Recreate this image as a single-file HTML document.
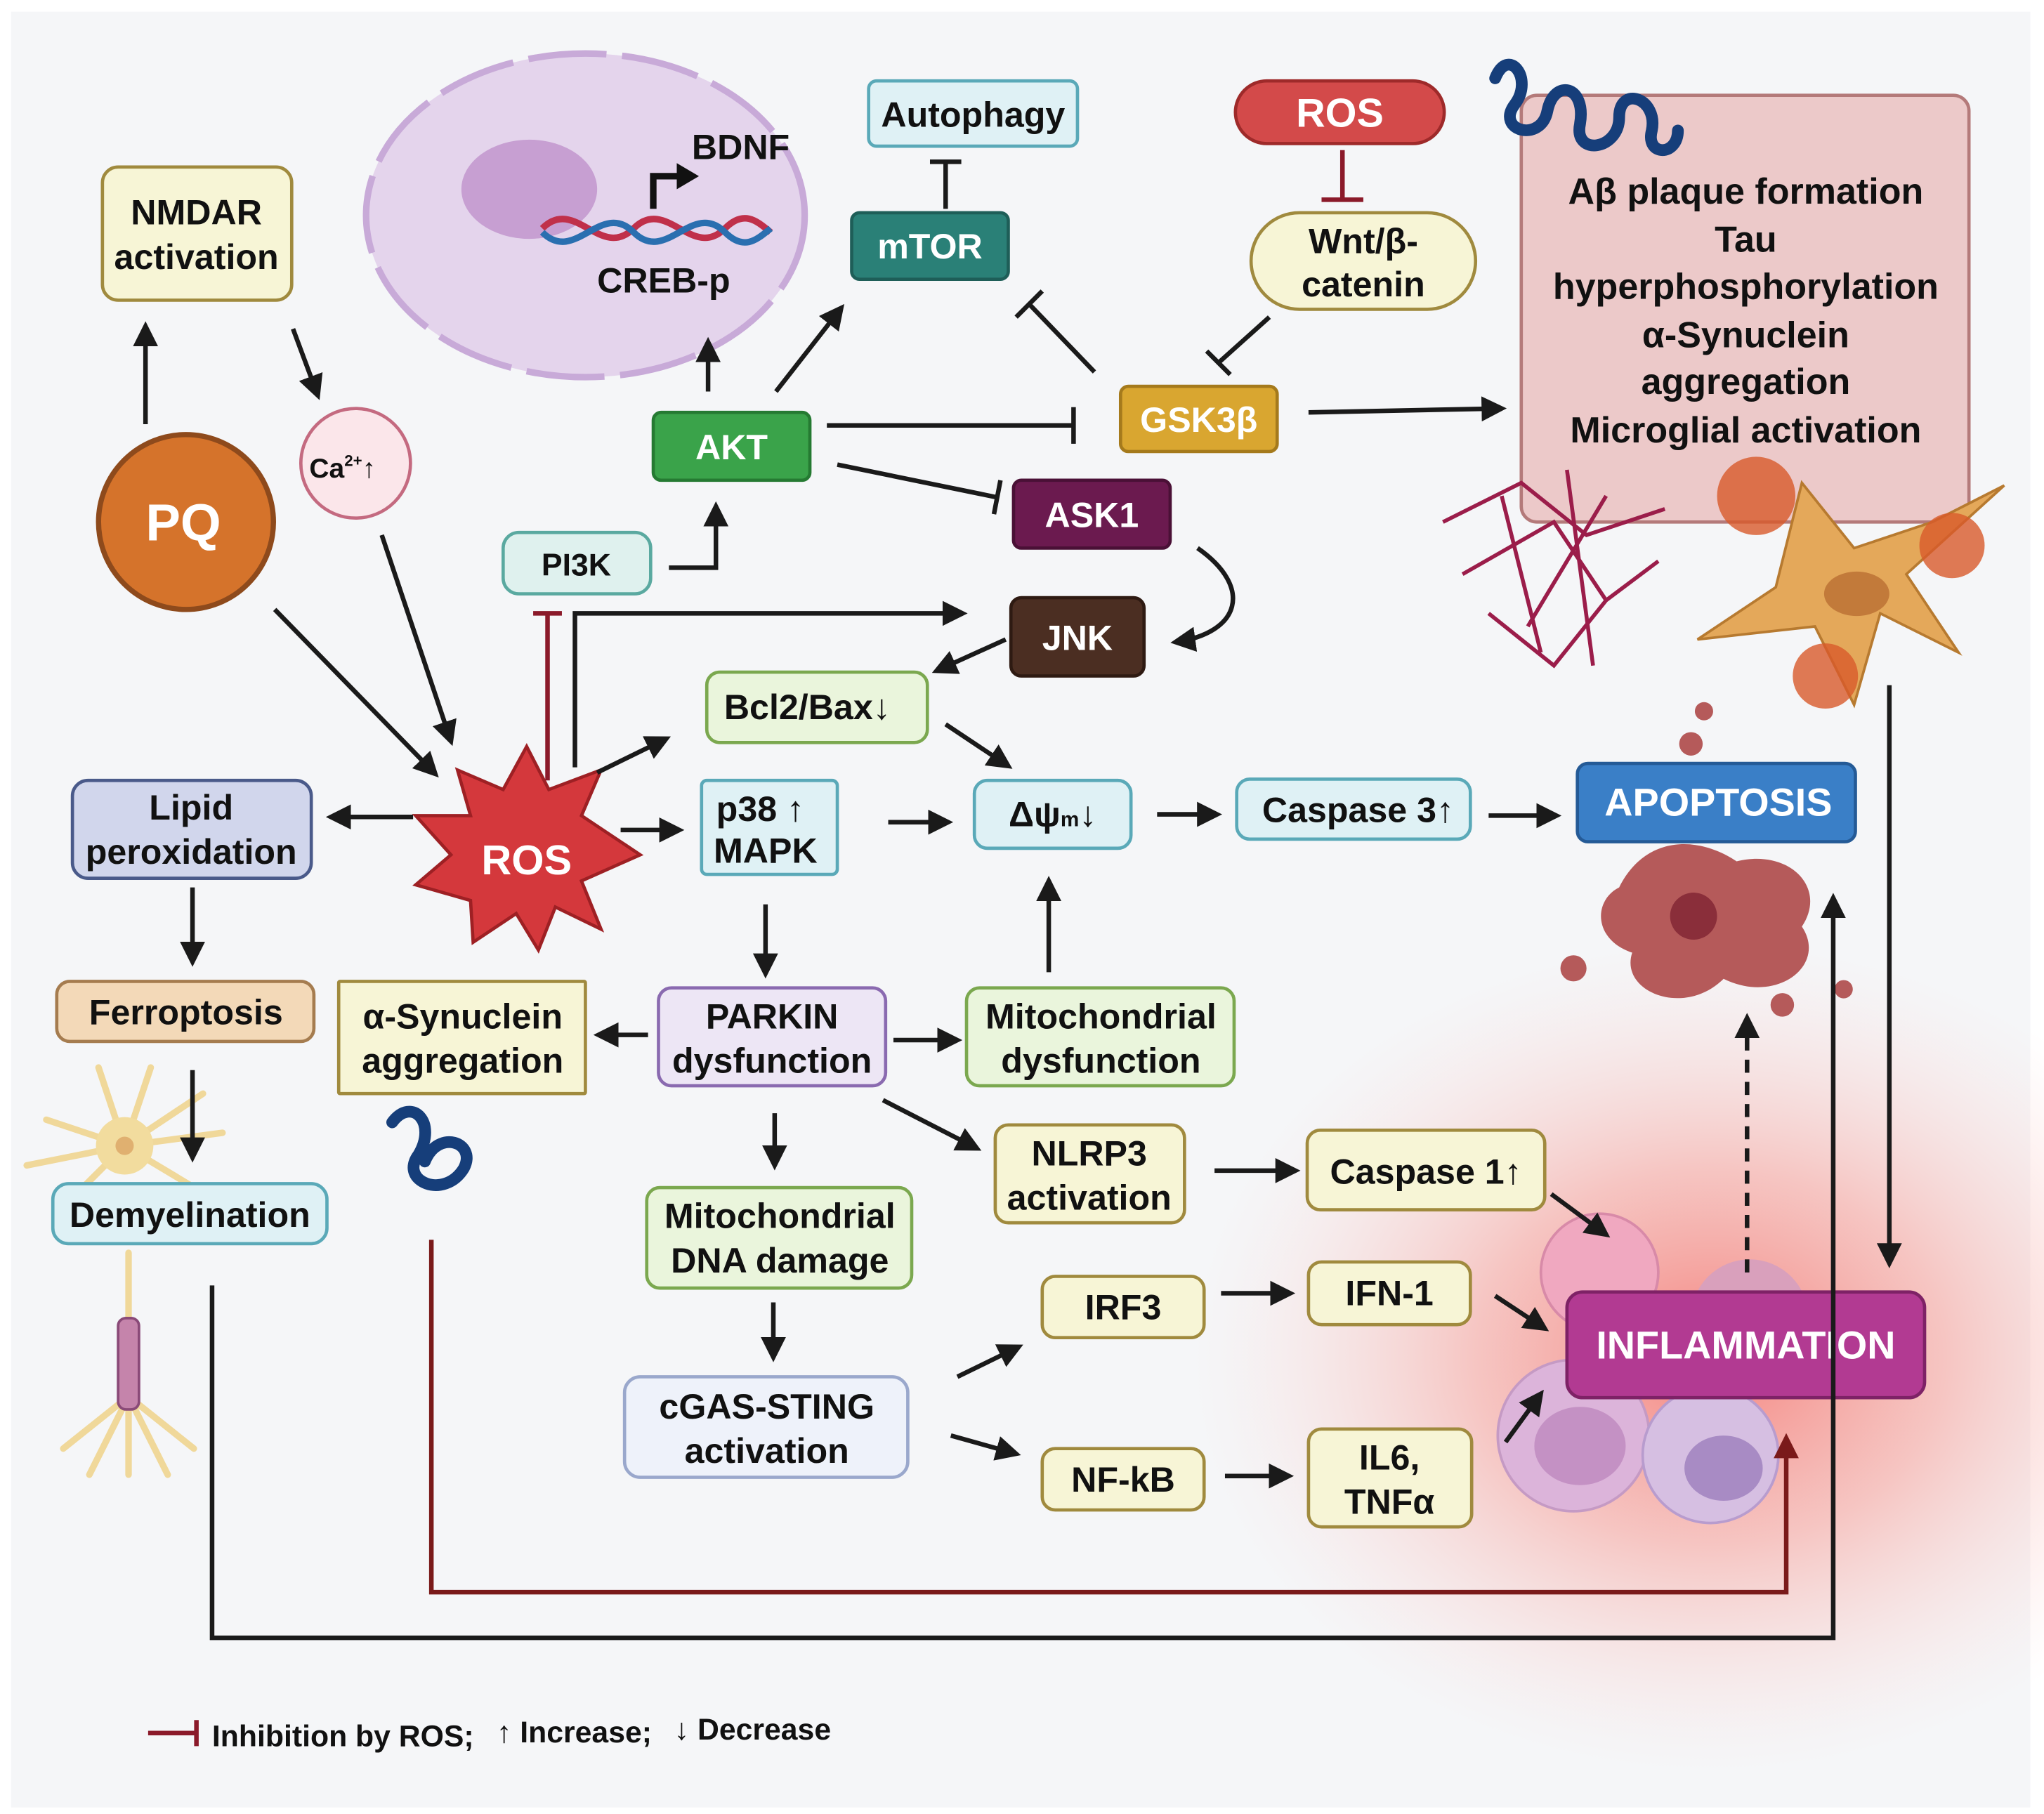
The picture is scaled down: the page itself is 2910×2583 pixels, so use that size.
<!DOCTYPE html>
<html><head><meta charset="utf-8"><style>
html,body{margin:0;padding:0;background:#fff}
svg{display:block}
text{font-family:"Liberation Sans",sans-serif;font-weight:bold;fill:#111}
</style></head><body>
<svg width="2910" height="2583" viewBox="0 0 1565 1390" xmlns="http://www.w3.org/2000/svg">
<defs>
<marker id="a" viewBox="0 0 10 10" refX="8" refY="5" markerWidth="5.5" markerHeight="5.5" orient="auto-start-reverse"><path d="M0,0 L10,5 L0,10 z" fill="#1a1a1a"/></marker>
<marker id="ar" viewBox="0 0 10 10" refX="8" refY="5" markerWidth="5.5" markerHeight="5.5" orient="auto"><path d="M0,0 L10,5 L0,10 z" fill="#7a1a1a"/></marker>
<radialGradient id="glow" cx="0.5" cy="0.5" r="0.5">
<stop offset="0" stop-color="#f4706a" stop-opacity="0.85"/>
<stop offset="0.45" stop-color="#f6948c" stop-opacity="0.5"/>
<stop offset="1" stop-color="#f9d6d4" stop-opacity="0"/>
</radialGradient>
</defs>
<rect x="0" y="0" width="1565" height="1390" fill="#fff"/>
<rect x="8" y="9" width="1547" height="1376" fill="#f5f6f8"/>
<ellipse cx="1310" cy="1040" rx="400" ry="320" fill="url(#glow)"/>

<!-- nucleus -->
<ellipse cx="448" cy="165" rx="168" ry="124" fill="#e4d4ec" stroke="#c8aad8" stroke-width="5" stroke-dasharray="60 12"/>
<ellipse cx="405" cy="145" rx="52" ry="38" fill="#c79fd2"/>
<path d="M415,175 C440,150 460,200 485,175 C510,150 530,200 555,175 C570,160 580,170 590,178" stroke="#c0304a" stroke-width="5" fill="none"/>
<path d="M415,178 C440,203 460,153 485,178 C510,203 530,153 555,178 C570,193 580,183 590,175" stroke="#2a6fb0" stroke-width="5" fill="none"/>
<path d="M500,160 L500,135 L520,135" stroke="#111" stroke-width="5" fill="none"/>
<path d="M518,125 L535,135 L518,145z" fill="#111"/>
<text x="567" y="122" font-size="27" text-anchor="middle">BDNF</text>
<text x="508" y="224" font-size="27" text-anchor="middle">CREB-p</text>

<!-- Abeta box -->
<rect x="1165" y="73" width="343" height="327" rx="12" fill="#ecc9c9" stroke="#b47a7a" stroke-width="2.5"/>
<g font-size="28" text-anchor="middle">
<text x="1337" y="156">Aβ plaque formation</text>
<text x="1337" y="193">Tau</text>
<text x="1337" y="229">hyperphosphorylation</text>
<text x="1337" y="266">α-Synuclein</text>
<text x="1337" y="302">aggregation</text>
<text x="1337" y="339">Microglial activation</text>
</g>
<g stroke="#163e7a" stroke-width="9" fill="none" stroke-linecap="round">
<path d="M1145,60 c10,-25 30,0 15,20 c-15,20 20,30 25,5 c5,-25 30,-20 25,10 c-5,25 30,20 30,-5 c0,-25 30,-15 25,10 c-5,20 20,20 20,0"/>
<path d="M300,860 c15,-20 35,0 20,25 c-15,20 20,35 35,10 c10,-20 -20,-30 -30,-5"/>
</g>
<g stroke="#9b1d4a" stroke-width="3" fill="none">
<path d="M1105,400 l60,-30 l50,40 l60,-20 M1120,440 l70,-40 l40,60 l40,-30 M1140,470 l50,40 l40,-50 M1150,380 l30,120 M1200,360 l20,150 M1230,380 l-60,100"/>
</g>
<path d="M1300,490 L1360,450 L1380,370 L1420,420 L1480,400 L1535,372 L1460,440 L1500,500 L1440,470 L1420,540 L1390,480 z" fill="#e4a85a" stroke="#b77a30" stroke-width="2"/>
<ellipse cx="1422" cy="455" rx="25" ry="17" fill="#c27a3a"/>
<circle cx="1345" cy="380" r="30" fill="#d85a2a" opacity="0.8"/>
<circle cx="1495" cy="418" r="25" fill="#d85a2a" opacity="0.8"/>
<circle cx="1398" cy="518" r="25" fill="#d85a2a" opacity="0.8"/>
<path d="M1240,680 C1260,640 1300,640 1330,660 C1370,650 1400,680 1380,710 C1400,740 1360,770 1320,750 C1290,780 1240,760 1250,730 C1220,720 1220,690 1240,680z" fill="#b55a5a"/>
<circle cx="1297" cy="702" r="18" fill="#8a2e3a"/>
<circle cx="1295" cy="570" r="9" fill="#b55a5a"/><circle cx="1305" cy="545" r="7" fill="#b55a5a"/>
<circle cx="1205" cy="742" r="10" fill="#b55a5a"/><circle cx="1365" cy="770" r="9" fill="#b55a5a"/><circle cx="1412" cy="758" r="7" fill="#b55a5a"/>
<circle cx="1225" cy="975" r="45" fill="#f0a8c0" stroke="#d88aa8" stroke-width="2"/>
<circle cx="1340" cy="1010" r="45" fill="#d9a0bc"/>
<circle cx="1205" cy="1100" r="58" fill="#dcb4da" stroke="#c59ac4" stroke-width="2"/>
<ellipse cx="1210" cy="1108" rx="35" ry="30" fill="#c491c4"/>
<circle cx="1310" cy="1115" r="52" fill="#d6bfe2" stroke="#b89cce" stroke-width="2"/>
<ellipse cx="1320" cy="1125" rx="30" ry="25" fill="#a88bc4"/>
<g stroke="#f0d89a" stroke-width="5" fill="none" stroke-linecap="round">
<path d="M95,878 l-60,-20 M95,878 l-75,15 M95,878 l-40,40 M95,878 l20,-60 M95,878 l60,-40 M95,878 l75,-10 M95,878 l50,30 M95,878 l-20,-60"/>
<path d="M98,960 L98,1070 M98,1070 l-50,40 M98,1070 l50,40 M98,1070 l0,60 M98,1070 l-30,60 M98,1070 l30,60"/>
</g>
<circle cx="95" cy="878" r="22" fill="#f2dc9e"/><circle cx="95" cy="878" r="7" fill="#e0b070"/>
<rect x="90" y="1010" width="16" height="70" rx="6" fill="#c584ab" stroke="#8a4a78" stroke-width="2"/>

<g stroke-width="2.5">
<rect x="78" y="128" width="145" height="102" rx="12" fill="#f7f5d6" stroke="#a08a3e"/>
<rect x="665" y="62" width="160" height="50" rx="6" fill="#dff1f5" stroke="#5aa9b8"/>
<rect x="652" y="163" width="120" height="51" rx="6" fill="#2a8077" stroke="#1e5e58"/>
<rect x="946" y="62" width="160" height="48" rx="24" fill="#d34a4a" stroke="#9e2a2a"/>
<rect x="958" y="163" width="172" height="74" rx="37" fill="#f7f5d6" stroke="#a08a3e"/>
<circle cx="272" cy="355" r="42" fill="#fbe6ea" stroke="#c46a80"/>
<circle cx="142" cy="400" r="67" fill="#d5732b" stroke="#8e4a1c" stroke-width="4"/>
<rect x="500" y="316" width="120" height="52" rx="6" fill="#3aa34a" stroke="#257a32"/>
<rect x="858" y="296" width="120" height="50" rx="6" fill="#d9a630" stroke="#a57a1c"/>
<rect x="776" y="368" width="120" height="52" rx="6" fill="#6b1a4f" stroke="#4a1036"/>
<rect x="385" y="408" width="113" height="47" rx="12" fill="#dff1ee" stroke="#5aa9a0"/>
<rect x="774" y="458" width="102" height="60" rx="8" fill="#4b2e22" stroke="#2e1a12"/>
<rect x="541" y="515" width="169" height="54" rx="10" fill="#eaf5dc" stroke="#7ba84f"/>
<rect x="55" y="598" width="183" height="75" rx="12" fill="#d1d6ec" stroke="#4a5a8a"/>
<rect x="537" y="598" width="104" height="72" rx="4" fill="#dff1f5" stroke="#5aa9b8"/>
<rect x="746" y="598" width="120" height="52" rx="10" fill="#dff1f5" stroke="#5aa9b8"/>
<rect x="947" y="597" width="179" height="46" rx="10" fill="#dff1f5" stroke="#5aa9b8"/>
<rect x="1208" y="585" width="213" height="60" rx="8" fill="#3a7fc7" stroke="#245a96"/>
<rect x="43" y="752" width="197" height="46" rx="10" fill="#f3d9b8" stroke="#a57c4f"/>
<rect x="259" y="752" width="189" height="86" rx="1" fill="#f7f5d6" stroke="#a08a3e"/>
<rect x="504" y="757" width="174" height="75" rx="10" fill="#ede6f5" stroke="#8a6ab0"/>
<rect x="740" y="757" width="205" height="75" rx="10" fill="#eaf5dc" stroke="#7ba84f"/>
<rect x="40" y="907" width="210" height="46" rx="12" fill="#dff1f5" stroke="#5aa9b8"/>
<rect x="762" y="862" width="145" height="75" rx="10" fill="#f7f5d6" stroke="#a08a3e"/>
<rect x="1001" y="866" width="182" height="61" rx="10" fill="#f7f5d6" stroke="#a08a3e"/>
<rect x="495" y="910" width="203" height="77" rx="10" fill="#eaf5dc" stroke="#7ba84f"/>
<rect x="798" y="978" width="124" height="47" rx="10" fill="#f7f5d6" stroke="#a08a3e"/>
<rect x="1002" y="967" width="124" height="48" rx="10" fill="#f7f5d6" stroke="#a08a3e"/>
<rect x="478" y="1055" width="217" height="77" rx="12" fill="#eef2fa" stroke="#9aa8cc"/>
<rect x="798" y="1110" width="124" height="47" rx="10" fill="#f7f5d6" stroke="#a08a3e"/>
<rect x="1002" y="1095" width="125" height="75" rx="10" fill="#f7f5d6" stroke="#a08a3e"/>
<rect x="1200" y="990" width="274" height="81" rx="12" fill="#b23a92" stroke="#7e2266"/>
</g>
<polygon points="403,572 420,605 460,590 445,625 490,655 445,675 460,712 425,695 412,728 395,700 362,722 360,690 318,678 345,655 318,625 360,625 350,590 385,605" fill="#d4383c" stroke="#9e2024" stroke-width="2.5"/>

<g font-size="27" text-anchor="middle">
<text x="150" y="172">NMDAR</text><text x="150" y="206">activation</text>
<text x="745" y="97">Autophagy</text>
<text x="712" y="198" style="fill:#fff">mTOR</text>
<text x="1026" y="97" font-size="31" style="fill:#fff">ROS</text>
<text x="1044" y="194">Wnt/β-</text><text x="1044" y="227">catenin</text>
<text x="262" y="366" font-size="21">Ca<tspan font-size="12" dy="-9">2+</tspan><tspan dy="9">↑</tspan></text>
<text x="140" y="414" font-size="40" style="fill:#fff">PQ</text>
<text x="560" y="352" style="fill:#fff">AKT</text>
<text x="918" y="331" style="fill:#fff">GSK3β</text>
<text x="836" y="404" style="fill:#fff">ASK1</text>
<text x="441" y="441" font-size="24">PI3K</text>
<text x="825" y="498" style="fill:#fff">JNK</text>
<text x="618" y="551">Bcl2/Bax↓</text>
<text x="403" y="670" font-size="32" style="fill:#fff">ROS</text>
<text x="146" y="628">Lipid</text><text x="146" y="662">peroxidation</text>
<text x="582" y="629">p38 ↑</text><text x="586" y="661">MAPK</text>
<text x="806" y="633">Δψ<tspan font-size="16">m</tspan>↓</text>
<text x="1040" y="630">Caspase 3↑</text>
<text x="1316" y="625" font-size="30" style="fill:#fff">APOPTOSIS</text>
<text x="142" y="785">Ferroptosis</text>
<text x="354" y="788">α-Synuclein</text><text x="354" y="822">aggregation</text>
<text x="591" y="788">PARKIN</text><text x="591" y="822">dysfunction</text>
<text x="843" y="788">Mitochondrial</text><text x="843" y="822">dysfunction</text>
<text x="145" y="940">Demyelination</text>
<text x="834" y="893">NLRP3</text><text x="834" y="927">activation</text>
<text x="1092" y="907">Caspase 1↑</text>
<text x="597" y="941">Mitochondrial</text><text x="597" y="975">DNA damage</text>
<text x="860" y="1011">IRF3</text>
<text x="1064" y="1000">IFN-1</text>
<text x="587" y="1087">cGAS-STING</text><text x="587" y="1121">activation</text>
<text x="860" y="1143">NF-kB</text>
<text x="1064" y="1126">IL6,</text><text x="1064" y="1160">TNFα</text>
<text x="1337" y="1041" font-size="30" style="fill:#fff">INFLAMMATION</text>
</g>

<g stroke="#1a1a1a" stroke-width="3.5" fill="none" marker-end="url(#a)">
<path d="M111,325 L111,250"/>
<path d="M224,252 L243,303"/>
<path d="M292,410 L345,568"/>
<path d="M210,467 L333,593"/>
<path d="M316,626 L253,626"/>
<path d="M475,636 L520,636"/>
<path d="M457,592 L510,566"/>
<path d="M440,588 L440,470 L737,470"/>
<path d="M512,435 L548,435 L548,388"/>
<path d="M542,300 L542,262"/>
<path d="M594,300 L644,236"/>
<path d="M1002,316 L1150,313"/>
<path d="M917,420 C960,450 950,485 900,492"/>
<path d="M770,490 L717,514"/>
<path d="M724,555 L772,587"/>
<path d="M680,630 L726,630"/>
<path d="M886,624 L932,624"/>
<path d="M1140,625 L1192,625"/>
<path d="M803,745 L803,675"/>
<path d="M586,693 L586,746"/>
<path d="M496,793 L458,793"/>
<path d="M684,797 L733,797"/>
<path d="M593,853 L593,893"/>
<path d="M676,843 L748,880"/>
<path d="M147,680 L147,737"/>
<path d="M147,820 L147,887"/>
<path d="M592,998 L592,1040"/>
<path d="M733,1055 L780,1032"/>
<path d="M728,1100 L778,1114"/>
<path d="M935,991 L988,991"/>
<path d="M938,1131 L987,1131"/>
<path d="M930,897 L992,897"/>
<path d="M1188,915 L1230,946"/>
<path d="M1145,993 L1183,1018"/>
<path d="M1153,1105 L1180,1068"/>
<path d="M162,985 L162,1255 L1404,1255 L1404,688"/>
<path d="M1447,525 L1447,968"/>
<path d="M1338,975 L1338,780" stroke-dasharray="10 7"/>
</g>
<path d="M330,950 L330,1220 L1368,1220 L1368,1102" stroke="#7a1a1a" stroke-width="3.5" fill="none" marker-end="url(#ar)"/>
<g stroke="#1a1a1a" stroke-width="3.5" fill="none">
<path d="M633,326 L822,326 M822,312 L822,340"/>
<path d="M641,356 L763,381 M766,368 L761,394"/>
<path d="M838,285 L788,233 M778,243 L798,223"/>
<path d="M724,160 L724,124 M712,124 L736,124"/>
<path d="M972,243 L933,278 M924,269 L942,287"/>
</g>
<g stroke="#8b1a2a" stroke-width="3.5" fill="none">
<path d="M419,598 L419,470 M408,470 L430,470"/>
<path d="M1028,115 L1028,153 M1012,153 L1044,153"/>
<path d="M113,1328 L150,1328 M150,1318 L150,1338"/>
</g>
<g font-size="23">
<text x="162" y="1338">Inhibition by ROS;</text>
<text x="380" y="1335">↑ Increase;</text>
<text x="516" y="1333">↓ Decrease</text>
</g>
</svg>
</body></html>
